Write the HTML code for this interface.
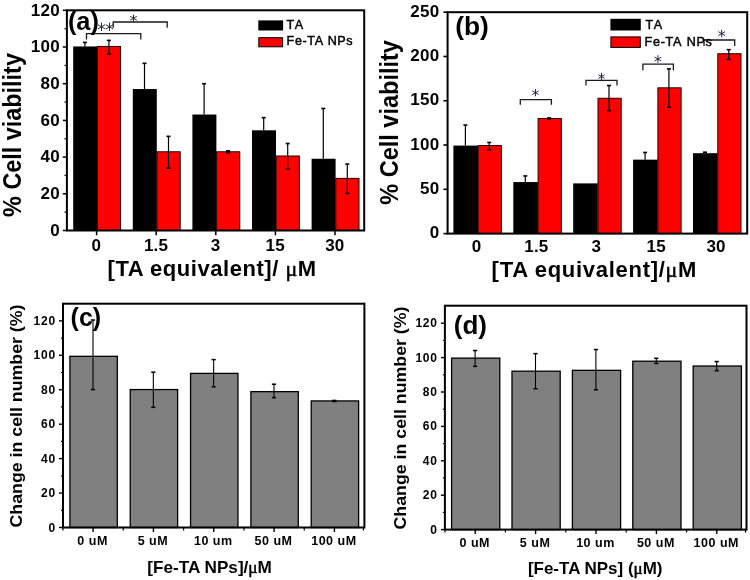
<!DOCTYPE html>
<html><head><meta charset="utf-8"><style>
html,body{margin:0;padding:0;background:#fff;width:750px;height:580px;overflow:hidden}
svg{display:block;will-change:transform}
</style></head><body>
<svg width="750" height="580" viewBox="0 0 750 580">
<rect width="750" height="580" fill="#fff"/>
<line x1="62.80" y1="230.50" x2="66.90" y2="230.50" stroke="#000" stroke-width="1.5"/>
<text x="59.90" y="235.70" font-family="&quot;Liberation Sans&quot;, sans-serif" font-weight="bold" font-size="17" text-anchor="end" fill="#000" letter-spacing="0.3">0</text>
<line x1="62.80" y1="193.80" x2="66.90" y2="193.80" stroke="#000" stroke-width="1.5"/>
<text x="59.90" y="199.00" font-family="&quot;Liberation Sans&quot;, sans-serif" font-weight="bold" font-size="17" text-anchor="end" fill="#000" letter-spacing="0.3">20</text>
<line x1="62.80" y1="157.10" x2="66.90" y2="157.10" stroke="#000" stroke-width="1.5"/>
<text x="59.90" y="162.30" font-family="&quot;Liberation Sans&quot;, sans-serif" font-weight="bold" font-size="17" text-anchor="end" fill="#000" letter-spacing="0.3">40</text>
<line x1="62.80" y1="120.40" x2="66.90" y2="120.40" stroke="#000" stroke-width="1.5"/>
<text x="59.90" y="125.60" font-family="&quot;Liberation Sans&quot;, sans-serif" font-weight="bold" font-size="17" text-anchor="end" fill="#000" letter-spacing="0.3">60</text>
<line x1="62.80" y1="83.70" x2="66.90" y2="83.70" stroke="#000" stroke-width="1.5"/>
<text x="59.90" y="88.90" font-family="&quot;Liberation Sans&quot;, sans-serif" font-weight="bold" font-size="17" text-anchor="end" fill="#000" letter-spacing="0.3">80</text>
<line x1="62.80" y1="47.00" x2="66.90" y2="47.00" stroke="#000" stroke-width="1.5"/>
<text x="59.90" y="52.20" font-family="&quot;Liberation Sans&quot;, sans-serif" font-weight="bold" font-size="17" text-anchor="end" fill="#000" letter-spacing="0.3">100</text>
<line x1="62.80" y1="10.30" x2="66.90" y2="10.30" stroke="#000" stroke-width="1.5"/>
<text x="59.90" y="15.50" font-family="&quot;Liberation Sans&quot;, sans-serif" font-weight="bold" font-size="17" text-anchor="end" fill="#000" letter-spacing="0.3">120</text>
<line x1="64.50" y1="212.15" x2="66.90" y2="212.15" stroke="#000" stroke-width="1.2"/>
<line x1="64.50" y1="175.45" x2="66.90" y2="175.45" stroke="#000" stroke-width="1.2"/>
<line x1="64.50" y1="138.75" x2="66.90" y2="138.75" stroke="#000" stroke-width="1.2"/>
<line x1="64.50" y1="102.05" x2="66.90" y2="102.05" stroke="#000" stroke-width="1.2"/>
<line x1="64.50" y1="65.35" x2="66.90" y2="65.35" stroke="#000" stroke-width="1.2"/>
<line x1="64.50" y1="28.65" x2="66.90" y2="28.65" stroke="#000" stroke-width="1.2"/>
<rect x="73.20" y="46.45" width="24.00" height="184.05" fill="#000"/>
<rect x="97.40" y="46.45" width="23.20" height="184.05" fill="#ff0000" stroke="#200000" stroke-width="1.0"/>
<rect x="132.80" y="89.02" width="24.00" height="141.48" fill="#000"/>
<rect x="157.00" y="151.78" width="23.20" height="78.72" fill="#ff0000" stroke="#200000" stroke-width="1.0"/>
<rect x="192.40" y="114.53" width="24.00" height="115.97" fill="#000"/>
<rect x="216.60" y="151.78" width="23.20" height="78.72" fill="#ff0000" stroke="#200000" stroke-width="1.0"/>
<rect x="252.00" y="130.31" width="24.00" height="100.19" fill="#000"/>
<rect x="276.20" y="156.00" width="23.20" height="74.50" fill="#ff0000" stroke="#200000" stroke-width="1.0"/>
<rect x="311.60" y="158.75" width="24.00" height="71.75" fill="#000"/>
<rect x="335.80" y="178.39" width="23.20" height="52.11" fill="#ff0000" stroke="#200000" stroke-width="1.0"/>
<line x1="84.90" y1="42.41" x2="84.90" y2="46.45" stroke="#000" stroke-width="1.2"/>
<line x1="82.90" y1="42.41" x2="86.90" y2="42.41" stroke="#000" stroke-width="1.6"/>
<line x1="108.90" y1="40.39" x2="108.90" y2="53.97" stroke="#000" stroke-width="1.2"/>
<line x1="106.90" y1="40.39" x2="110.90" y2="40.39" stroke="#000" stroke-width="1.6"/>
<line x1="106.90" y1="53.97" x2="110.90" y2="53.97" stroke="#000" stroke-width="1.6"/>
<line x1="144.50" y1="63.33" x2="144.50" y2="89.02" stroke="#000" stroke-width="1.2"/>
<line x1="142.50" y1="63.33" x2="146.50" y2="63.33" stroke="#000" stroke-width="1.6"/>
<line x1="168.50" y1="136.36" x2="168.50" y2="168.11" stroke="#000" stroke-width="1.2"/>
<line x1="166.50" y1="136.36" x2="170.50" y2="136.36" stroke="#000" stroke-width="1.6"/>
<line x1="166.50" y1="168.11" x2="170.50" y2="168.11" stroke="#000" stroke-width="1.6"/>
<line x1="204.10" y1="83.70" x2="204.10" y2="114.53" stroke="#000" stroke-width="1.2"/>
<line x1="202.10" y1="83.70" x2="206.10" y2="83.70" stroke="#000" stroke-width="1.6"/>
<line x1="228.10" y1="150.86" x2="228.10" y2="152.70" stroke="#000" stroke-width="1.2"/>
<line x1="226.10" y1="150.86" x2="230.10" y2="150.86" stroke="#000" stroke-width="1.6"/>
<line x1="226.10" y1="152.70" x2="230.10" y2="152.70" stroke="#000" stroke-width="1.6"/>
<line x1="263.70" y1="117.65" x2="263.70" y2="130.31" stroke="#000" stroke-width="1.2"/>
<line x1="261.70" y1="117.65" x2="265.70" y2="117.65" stroke="#000" stroke-width="1.6"/>
<line x1="287.70" y1="143.52" x2="287.70" y2="168.84" stroke="#000" stroke-width="1.2"/>
<line x1="285.70" y1="143.52" x2="289.70" y2="143.52" stroke="#000" stroke-width="1.6"/>
<line x1="285.70" y1="168.84" x2="289.70" y2="168.84" stroke="#000" stroke-width="1.6"/>
<line x1="323.30" y1="108.47" x2="323.30" y2="158.75" stroke="#000" stroke-width="1.2"/>
<line x1="321.30" y1="108.47" x2="325.30" y2="108.47" stroke="#000" stroke-width="1.6"/>
<line x1="347.30" y1="164.07" x2="347.30" y2="193.43" stroke="#000" stroke-width="1.2"/>
<line x1="345.30" y1="164.07" x2="349.30" y2="164.07" stroke="#000" stroke-width="1.6"/>
<line x1="345.30" y1="193.43" x2="349.30" y2="193.43" stroke="#000" stroke-width="1.6"/>
<line x1="96.60" y1="230.50" x2="96.60" y2="235.30" stroke="#000" stroke-width="1.5"/>
<text x="96.40" y="251.30" font-family="&quot;Liberation Sans&quot;, sans-serif" font-weight="bold" font-size="17" text-anchor="middle" fill="#000" letter-spacing="0.2">0</text>
<line x1="156.20" y1="230.50" x2="156.20" y2="235.30" stroke="#000" stroke-width="1.5"/>
<text x="156.00" y="251.30" font-family="&quot;Liberation Sans&quot;, sans-serif" font-weight="bold" font-size="17" text-anchor="middle" fill="#000" letter-spacing="0.2">1.5</text>
<line x1="215.80" y1="230.50" x2="215.80" y2="235.30" stroke="#000" stroke-width="1.5"/>
<text x="215.60" y="251.30" font-family="&quot;Liberation Sans&quot;, sans-serif" font-weight="bold" font-size="17" text-anchor="middle" fill="#000" letter-spacing="0.2">3</text>
<line x1="275.40" y1="230.50" x2="275.40" y2="235.30" stroke="#000" stroke-width="1.5"/>
<text x="275.20" y="251.30" font-family="&quot;Liberation Sans&quot;, sans-serif" font-weight="bold" font-size="17" text-anchor="middle" fill="#000" letter-spacing="0.2">15</text>
<line x1="335.00" y1="230.50" x2="335.00" y2="235.30" stroke="#000" stroke-width="1.5"/>
<text x="334.80" y="251.30" font-family="&quot;Liberation Sans&quot;, sans-serif" font-weight="bold" font-size="17" text-anchor="middle" fill="#000" letter-spacing="0.2">30</text>
<rect x="66.90" y="10.30" width="297.30" height="220.20" fill="none" stroke="#000" stroke-width="2"/>
<path d="M86.50,39.50 L86.50,33.70 L140.80,33.70 L140.80,39.50" fill="none" stroke="#1a1a1a" stroke-width="1.3"/>
<path d="M113.20,27.80 L113.20,22.00 L167.20,22.00 L167.20,27.80" fill="none" stroke="#1a1a1a" stroke-width="1.3"/>
<path d="M101.50,22.60L101.50,31.00M105.14,24.70L97.86,28.90M105.14,28.90L97.86,24.70" stroke="#1e2238" stroke-width="0.95" fill="none"/>
<path d="M109.50,22.60L109.50,31.00M113.14,24.70L105.86,28.90M113.14,28.90L105.86,24.70" stroke="#1e2238" stroke-width="0.95" fill="none"/>
<path d="M133.50,14.50L133.50,22.10M136.79,16.40L130.21,20.20M136.79,20.20L130.21,16.40" stroke="#1e2238" stroke-width="0.95" fill="none"/>
<rect x="258.30" y="20.40" width="24.80" height="10.10" fill="#000"/>
<rect x="258.80" y="37.70" width="23.80" height="9.10" fill="#ff0000" stroke="#000" stroke-width="1"/>
<text x="286.60" y="28.90" font-family="&quot;Liberation Sans&quot;, sans-serif" font-weight="normal" font-size="12.6" text-anchor="start" fill="#000" letter-spacing="1.5" stroke="#000" stroke-width="0.45">TA</text>
<text x="286.60" y="45.20" font-family="&quot;Liberation Sans&quot;, sans-serif" font-weight="normal" font-size="12.6" text-anchor="start" fill="#000" letter-spacing="0.6" word-spacing="0.6" stroke="#000" stroke-width="0.45">Fe-TA NPs</text>
<text x="67.90" y="30.40" font-family="&quot;Liberation Sans&quot;, sans-serif" font-weight="bold" font-size="25" text-anchor="start" fill="#000" textLength="31.00" lengthAdjust="spacingAndGlyphs" >(a)</text>
<g transform="translate(20.7,135) rotate(-90)">
<text x="0.00" y="0.00" font-family="&quot;Liberation Sans&quot;, sans-serif" font-weight="bold" font-size="25.5" text-anchor="middle" fill="#000" textLength="163.80" lengthAdjust="spacingAndGlyphs" >% Cell viability</text>
</g>
<text x="107.60" y="275.70" font-family="&quot;Liberation Sans&quot;, sans-serif" font-weight="bold" font-size="22" text-anchor="start" fill="#000" textLength="208.50" lengthAdjust="spacing" >[TA equivalent]/ <tspan font-family="Liberation Serif" font-weight="normal" stroke="#000" stroke-width="0.5">&#956;</tspan>M</text>
<line x1="443.40" y1="233.60" x2="447.60" y2="233.60" stroke="#000" stroke-width="1.6"/>
<text x="439.60" y="238.30" font-family="&quot;Liberation Sans&quot;, sans-serif" font-weight="bold" font-size="17" text-anchor="end" fill="#000" letter-spacing="0.3">0</text>
<line x1="443.40" y1="189.32" x2="447.60" y2="189.32" stroke="#000" stroke-width="1.6"/>
<text x="439.60" y="194.02" font-family="&quot;Liberation Sans&quot;, sans-serif" font-weight="bold" font-size="17" text-anchor="end" fill="#000" letter-spacing="0.3">50</text>
<line x1="443.40" y1="145.04" x2="447.60" y2="145.04" stroke="#000" stroke-width="1.6"/>
<text x="439.60" y="149.74" font-family="&quot;Liberation Sans&quot;, sans-serif" font-weight="bold" font-size="17" text-anchor="end" fill="#000" letter-spacing="0.3">100</text>
<line x1="443.40" y1="100.76" x2="447.60" y2="100.76" stroke="#000" stroke-width="1.6"/>
<text x="439.60" y="105.46" font-family="&quot;Liberation Sans&quot;, sans-serif" font-weight="bold" font-size="17" text-anchor="end" fill="#000" letter-spacing="0.3">150</text>
<line x1="443.40" y1="56.48" x2="447.60" y2="56.48" stroke="#000" stroke-width="1.6"/>
<text x="439.60" y="61.18" font-family="&quot;Liberation Sans&quot;, sans-serif" font-weight="bold" font-size="17" text-anchor="end" fill="#000" letter-spacing="0.3">200</text>
<line x1="443.40" y1="12.20" x2="447.60" y2="12.20" stroke="#000" stroke-width="1.6"/>
<text x="439.60" y="16.90" font-family="&quot;Liberation Sans&quot;, sans-serif" font-weight="bold" font-size="17" text-anchor="end" fill="#000" letter-spacing="0.3">250</text>
<rect x="453.40" y="145.57" width="24.60" height="88.03" fill="#000"/>
<rect x="478.20" y="145.57" width="23.20" height="88.03" fill="#ff0000" stroke="#200000" stroke-width="1.0"/>
<rect x="513.30" y="182.06" width="24.60" height="51.54" fill="#000"/>
<rect x="538.10" y="118.47" width="23.20" height="115.13" fill="#ff0000" stroke="#200000" stroke-width="1.0"/>
<rect x="573.20" y="183.39" width="24.60" height="50.21" fill="#000"/>
<rect x="598.00" y="98.28" width="23.20" height="135.32" fill="#ff0000" stroke="#200000" stroke-width="1.0"/>
<rect x="633.10" y="159.65" width="24.60" height="73.95" fill="#000"/>
<rect x="657.90" y="87.83" width="23.20" height="145.77" fill="#ff0000" stroke="#200000" stroke-width="1.0"/>
<rect x="693.00" y="153.19" width="24.60" height="80.41" fill="#000"/>
<rect x="717.80" y="53.73" width="23.20" height="179.87" fill="#ff0000" stroke="#200000" stroke-width="1.0"/>
<line x1="465.40" y1="125.03" x2="465.40" y2="145.57" stroke="#000" stroke-width="1.2"/>
<line x1="463.40" y1="125.03" x2="467.40" y2="125.03" stroke="#000" stroke-width="1.6"/>
<line x1="489.20" y1="142.47" x2="489.20" y2="149.65" stroke="#000" stroke-width="1.2"/>
<line x1="487.20" y1="142.47" x2="491.20" y2="142.47" stroke="#000" stroke-width="1.6"/>
<line x1="487.20" y1="149.65" x2="491.20" y2="149.65" stroke="#000" stroke-width="1.6"/>
<line x1="525.30" y1="175.95" x2="525.30" y2="182.06" stroke="#000" stroke-width="1.2"/>
<line x1="523.30" y1="175.95" x2="527.30" y2="175.95" stroke="#000" stroke-width="1.6"/>
<line x1="549.10" y1="117.94" x2="549.10" y2="119.00" stroke="#000" stroke-width="1.2"/>
<line x1="547.10" y1="117.94" x2="551.10" y2="117.94" stroke="#000" stroke-width="1.6"/>
<line x1="547.10" y1="119.00" x2="551.10" y2="119.00" stroke="#000" stroke-width="1.6"/>
<line x1="609.00" y1="85.53" x2="609.00" y2="110.59" stroke="#000" stroke-width="1.2"/>
<line x1="607.00" y1="85.53" x2="611.00" y2="85.53" stroke="#000" stroke-width="1.6"/>
<line x1="607.00" y1="110.59" x2="611.00" y2="110.59" stroke="#000" stroke-width="1.6"/>
<line x1="645.10" y1="152.48" x2="645.10" y2="159.65" stroke="#000" stroke-width="1.2"/>
<line x1="643.10" y1="152.48" x2="647.10" y2="152.48" stroke="#000" stroke-width="1.6"/>
<line x1="668.90" y1="68.88" x2="668.90" y2="107.22" stroke="#000" stroke-width="1.2"/>
<line x1="666.90" y1="68.88" x2="670.90" y2="68.88" stroke="#000" stroke-width="1.6"/>
<line x1="666.90" y1="107.22" x2="670.90" y2="107.22" stroke="#000" stroke-width="1.6"/>
<line x1="705.00" y1="152.21" x2="705.00" y2="153.19" stroke="#000" stroke-width="1.2"/>
<line x1="703.00" y1="152.21" x2="707.00" y2="152.21" stroke="#000" stroke-width="1.6"/>
<line x1="728.80" y1="49.66" x2="728.80" y2="59.40" stroke="#000" stroke-width="1.2"/>
<line x1="726.80" y1="49.66" x2="730.80" y2="49.66" stroke="#000" stroke-width="1.6"/>
<line x1="726.80" y1="59.40" x2="730.80" y2="59.40" stroke="#000" stroke-width="1.6"/>
<text x="476.50" y="252.40" font-family="&quot;Liberation Sans&quot;, sans-serif" font-weight="bold" font-size="17" text-anchor="middle" fill="#000" letter-spacing="0.2">0</text>
<text x="536.40" y="252.40" font-family="&quot;Liberation Sans&quot;, sans-serif" font-weight="bold" font-size="17" text-anchor="middle" fill="#000" letter-spacing="0.2">1.5</text>
<text x="596.30" y="252.40" font-family="&quot;Liberation Sans&quot;, sans-serif" font-weight="bold" font-size="17" text-anchor="middle" fill="#000" letter-spacing="0.2">3</text>
<text x="656.20" y="252.40" font-family="&quot;Liberation Sans&quot;, sans-serif" font-weight="bold" font-size="17" text-anchor="middle" fill="#000" letter-spacing="0.2">15</text>
<text x="716.10" y="252.40" font-family="&quot;Liberation Sans&quot;, sans-serif" font-weight="bold" font-size="17" text-anchor="middle" fill="#000" letter-spacing="0.2">30</text>
<rect x="447.60" y="12.20" width="299.60" height="221.40" fill="none" stroke="#000" stroke-width="2"/>
<path d="M520.30,104.80 L520.30,99.70 L551.40,99.70 L551.40,104.80" fill="none" stroke="#1a1a1a" stroke-width="1.3"/>
<path d="M586.00,85.40 L586.00,80.30 L617.00,80.30 L617.00,85.40" fill="none" stroke="#1a1a1a" stroke-width="1.3"/>
<path d="M642.90,70.20 L642.90,64.20 L673.40,64.20 L673.40,70.20" fill="none" stroke="#1a1a1a" stroke-width="1.3"/>
<path d="M704.00,46.00 L704.00,40.00 L734.70,40.00 L734.70,46.00" fill="none" stroke="#1a1a1a" stroke-width="1.3"/>
<path d="M535.50,89.10L535.50,96.30M538.62,90.90L532.38,94.50M538.62,94.50L532.38,90.90" stroke="#1e2238" stroke-width="0.95" fill="none"/>
<path d="M601.50,72.90L601.50,80.10M604.62,74.70L598.38,78.30M604.62,78.30L598.38,74.70" stroke="#1e2238" stroke-width="0.95" fill="none"/>
<path d="M657.90,55.20L657.90,62.80M661.19,57.10L654.61,60.90M661.19,60.90L654.61,57.10" stroke="#1e2238" stroke-width="0.95" fill="none"/>
<path d="M721.70,29.80L721.70,37.40M724.99,31.70L718.41,35.50M724.99,35.50L718.41,31.70" stroke="#1e2238" stroke-width="0.95" fill="none"/>
<rect x="610.40" y="18.80" width="30.40" height="11.70" fill="#000"/>
<rect x="610.90" y="36.90" width="29.40" height="10.50" fill="#ff0000" stroke="#000" stroke-width="1"/>
<text x="645.40" y="28.90" font-family="&quot;Liberation Sans&quot;, sans-serif" font-weight="normal" font-size="12.6" text-anchor="start" fill="#000" letter-spacing="1.5" stroke="#000" stroke-width="0.45">TA</text>
<text x="644.60" y="46.00" font-family="&quot;Liberation Sans&quot;, sans-serif" font-weight="normal" font-size="12.6" text-anchor="start" fill="#000" letter-spacing="0.7" word-spacing="1" stroke="#000" stroke-width="0.45">Fe-TA NPs</text>
<text x="455.20" y="35.00" font-family="&quot;Liberation Sans&quot;, sans-serif" font-weight="bold" font-size="25" text-anchor="start" fill="#000" textLength="33.60" lengthAdjust="spacingAndGlyphs" >(b)</text>
<g transform="translate(398.2,122.4) rotate(-90)">
<text x="0.00" y="0.00" font-family="&quot;Liberation Sans&quot;, sans-serif" font-weight="bold" font-size="25.5" text-anchor="middle" fill="#000" textLength="164.70" lengthAdjust="spacingAndGlyphs" >% Cell viability</text>
</g>
<text x="491.60" y="276.70" font-family="&quot;Liberation Sans&quot;, sans-serif" font-weight="bold" font-size="22" text-anchor="start" fill="#000" textLength="204.80" lengthAdjust="spacing" >[TA equivalent]/<tspan font-family="Liberation Serif" font-weight="normal" stroke="#000" stroke-width="0.5">&#956;</tspan>M</text>
<line x1="59.00" y1="527.50" x2="63.00" y2="527.50" stroke="#000" stroke-width="1.4"/>
<text x="56.00" y="531.50" font-family="&quot;Liberation Sans&quot;, sans-serif" font-weight="bold" font-size="12" text-anchor="end" fill="#000" letter-spacing="0.8">0</text>
<line x1="59.00" y1="493.06" x2="63.00" y2="493.06" stroke="#000" stroke-width="1.4"/>
<text x="56.00" y="497.06" font-family="&quot;Liberation Sans&quot;, sans-serif" font-weight="bold" font-size="12" text-anchor="end" fill="#000" letter-spacing="0.8">20</text>
<line x1="59.00" y1="458.62" x2="63.00" y2="458.62" stroke="#000" stroke-width="1.4"/>
<text x="56.00" y="462.62" font-family="&quot;Liberation Sans&quot;, sans-serif" font-weight="bold" font-size="12" text-anchor="end" fill="#000" letter-spacing="0.8">40</text>
<line x1="59.00" y1="424.18" x2="63.00" y2="424.18" stroke="#000" stroke-width="1.4"/>
<text x="56.00" y="428.18" font-family="&quot;Liberation Sans&quot;, sans-serif" font-weight="bold" font-size="12" text-anchor="end" fill="#000" letter-spacing="0.8">60</text>
<line x1="59.00" y1="389.74" x2="63.00" y2="389.74" stroke="#000" stroke-width="1.4"/>
<text x="56.00" y="393.74" font-family="&quot;Liberation Sans&quot;, sans-serif" font-weight="bold" font-size="12" text-anchor="end" fill="#000" letter-spacing="0.8">80</text>
<line x1="59.00" y1="355.30" x2="63.00" y2="355.30" stroke="#000" stroke-width="1.4"/>
<text x="56.00" y="359.30" font-family="&quot;Liberation Sans&quot;, sans-serif" font-weight="bold" font-size="12" text-anchor="end" fill="#000" letter-spacing="0.8">100</text>
<line x1="59.00" y1="320.86" x2="63.00" y2="320.86" stroke="#000" stroke-width="1.4"/>
<text x="56.00" y="324.86" font-family="&quot;Liberation Sans&quot;, sans-serif" font-weight="bold" font-size="12" text-anchor="end" fill="#000" letter-spacing="0.8">120</text>
<line x1="61.00" y1="510.28" x2="63.00" y2="510.28" stroke="#000" stroke-width="1.2"/>
<line x1="61.00" y1="475.84" x2="63.00" y2="475.84" stroke="#000" stroke-width="1.2"/>
<line x1="61.00" y1="441.40" x2="63.00" y2="441.40" stroke="#000" stroke-width="1.2"/>
<line x1="61.00" y1="406.96" x2="63.00" y2="406.96" stroke="#000" stroke-width="1.2"/>
<line x1="61.00" y1="372.52" x2="63.00" y2="372.52" stroke="#000" stroke-width="1.2"/>
<line x1="61.00" y1="338.08" x2="63.00" y2="338.08" stroke="#000" stroke-width="1.2"/>
<rect x="69.90" y="356.33" width="47.40" height="171.17" fill="#808080" stroke="#000" stroke-width="1.3"/>
<rect x="130.23" y="389.57" width="47.40" height="137.93" fill="#808080" stroke="#000" stroke-width="1.3"/>
<rect x="190.56" y="373.38" width="47.40" height="154.12" fill="#808080" stroke="#000" stroke-width="1.3"/>
<rect x="250.89" y="391.63" width="47.40" height="135.87" fill="#808080" stroke="#000" stroke-width="1.3"/>
<rect x="311.22" y="400.93" width="47.40" height="126.57" fill="#808080" stroke="#000" stroke-width="1.3"/>
<line x1="93.00" y1="320.00" x2="93.00" y2="389.57" stroke="#000" stroke-width="1.1"/>
<line x1="90.90" y1="320.00" x2="95.10" y2="320.00" stroke="#000" stroke-width="1.5"/>
<line x1="90.90" y1="389.57" x2="95.10" y2="389.57" stroke="#000" stroke-width="1.5"/>
<line x1="153.33" y1="372.18" x2="153.33" y2="407.30" stroke="#000" stroke-width="1.1"/>
<line x1="151.23" y1="372.18" x2="155.43" y2="372.18" stroke="#000" stroke-width="1.5"/>
<line x1="151.23" y1="407.30" x2="155.43" y2="407.30" stroke="#000" stroke-width="1.5"/>
<line x1="213.66" y1="359.61" x2="213.66" y2="386.81" stroke="#000" stroke-width="1.1"/>
<line x1="211.56" y1="359.61" x2="215.76" y2="359.61" stroke="#000" stroke-width="1.5"/>
<line x1="211.56" y1="386.81" x2="215.76" y2="386.81" stroke="#000" stroke-width="1.5"/>
<line x1="273.99" y1="384.23" x2="273.99" y2="397.66" stroke="#000" stroke-width="1.1"/>
<line x1="271.89" y1="384.23" x2="276.09" y2="384.23" stroke="#000" stroke-width="1.5"/>
<line x1="271.89" y1="397.66" x2="276.09" y2="397.66" stroke="#000" stroke-width="1.5"/>
<line x1="334.32" y1="400.42" x2="334.32" y2="401.45" stroke="#000" stroke-width="1.1"/>
<line x1="332.22" y1="400.42" x2="336.42" y2="400.42" stroke="#000" stroke-width="1.5"/>
<line x1="332.22" y1="401.45" x2="336.42" y2="401.45" stroke="#000" stroke-width="1.5"/>
<line x1="93.10" y1="527.50" x2="93.10" y2="532.00" stroke="#000" stroke-width="1.4"/>
<line x1="62.93" y1="527.50" x2="62.93" y2="530.50" stroke="#000" stroke-width="1.2"/>
<text x="92.60" y="544.90" font-family="&quot;Liberation Sans&quot;, sans-serif" font-weight="bold" font-size="12.5" text-anchor="middle" fill="#000" letter-spacing="0.5">0 uM</text>
<line x1="153.43" y1="527.50" x2="153.43" y2="532.00" stroke="#000" stroke-width="1.4"/>
<line x1="123.27" y1="527.50" x2="123.27" y2="530.50" stroke="#000" stroke-width="1.2"/>
<text x="152.93" y="544.90" font-family="&quot;Liberation Sans&quot;, sans-serif" font-weight="bold" font-size="12.5" text-anchor="middle" fill="#000" letter-spacing="0.5">5 uM</text>
<line x1="213.76" y1="527.50" x2="213.76" y2="532.00" stroke="#000" stroke-width="1.4"/>
<line x1="183.59" y1="527.50" x2="183.59" y2="530.50" stroke="#000" stroke-width="1.2"/>
<text x="213.26" y="544.90" font-family="&quot;Liberation Sans&quot;, sans-serif" font-weight="bold" font-size="12.5" text-anchor="middle" fill="#000" letter-spacing="0.5">10 um</text>
<line x1="274.09" y1="527.50" x2="274.09" y2="532.00" stroke="#000" stroke-width="1.4"/>
<line x1="243.93" y1="527.50" x2="243.93" y2="530.50" stroke="#000" stroke-width="1.2"/>
<text x="273.59" y="544.90" font-family="&quot;Liberation Sans&quot;, sans-serif" font-weight="bold" font-size="12.5" text-anchor="middle" fill="#000" letter-spacing="0.5">50 uM</text>
<line x1="334.42" y1="527.50" x2="334.42" y2="532.00" stroke="#000" stroke-width="1.4"/>
<line x1="304.25" y1="527.50" x2="304.25" y2="530.50" stroke="#000" stroke-width="1.2"/>
<text x="333.92" y="544.90" font-family="&quot;Liberation Sans&quot;, sans-serif" font-weight="bold" font-size="12.5" text-anchor="middle" fill="#000" letter-spacing="0.5">100 uM</text>
<line x1="363.40" y1="527.50" x2="363.40" y2="530.50" stroke="#000" stroke-width="1.2"/>
<rect x="63.00" y="303.70" width="301.40" height="223.80" fill="none" stroke="#000" stroke-width="2"/>
<text x="70.60" y="326.00" font-family="&quot;Liberation Sans&quot;, sans-serif" font-weight="bold" font-size="25" text-anchor="start" fill="#000" textLength="30.60" lengthAdjust="spacingAndGlyphs" >(c)</text>
<g transform="translate(21.7,416.0) rotate(-90)">
<text x="0.00" y="0.00" font-family="&quot;Liberation Sans&quot;, sans-serif" font-weight="bold" font-size="17" text-anchor="middle" fill="#000" textLength="223.00" lengthAdjust="spacingAndGlyphs" >Change in cell number (%)</text>
</g>
<text x="147.30" y="572.90" font-family="&quot;Liberation Sans&quot;, sans-serif" font-weight="bold" font-size="16.6" text-anchor="start" fill="#000" textLength="124.60" lengthAdjust="spacingAndGlyphs" >[Fe-TA NPs]/<tspan font-family="Liberation Serif" font-weight="normal" stroke="#000" stroke-width="0.5">&#956;</tspan>M</text>
<line x1="440.90" y1="529.60" x2="444.90" y2="529.60" stroke="#000" stroke-width="1.4"/>
<text x="437.80" y="533.60" font-family="&quot;Liberation Sans&quot;, sans-serif" font-weight="bold" font-size="12" text-anchor="end" fill="#000" letter-spacing="0.8">0</text>
<line x1="440.90" y1="495.20" x2="444.90" y2="495.20" stroke="#000" stroke-width="1.4"/>
<text x="437.80" y="499.20" font-family="&quot;Liberation Sans&quot;, sans-serif" font-weight="bold" font-size="12" text-anchor="end" fill="#000" letter-spacing="0.8">20</text>
<line x1="440.90" y1="460.80" x2="444.90" y2="460.80" stroke="#000" stroke-width="1.4"/>
<text x="437.80" y="464.80" font-family="&quot;Liberation Sans&quot;, sans-serif" font-weight="bold" font-size="12" text-anchor="end" fill="#000" letter-spacing="0.8">40</text>
<line x1="440.90" y1="426.40" x2="444.90" y2="426.40" stroke="#000" stroke-width="1.4"/>
<text x="437.80" y="430.40" font-family="&quot;Liberation Sans&quot;, sans-serif" font-weight="bold" font-size="12" text-anchor="end" fill="#000" letter-spacing="0.8">60</text>
<line x1="440.90" y1="392.00" x2="444.90" y2="392.00" stroke="#000" stroke-width="1.4"/>
<text x="437.80" y="396.00" font-family="&quot;Liberation Sans&quot;, sans-serif" font-weight="bold" font-size="12" text-anchor="end" fill="#000" letter-spacing="0.8">80</text>
<line x1="440.90" y1="357.60" x2="444.90" y2="357.60" stroke="#000" stroke-width="1.4"/>
<text x="437.80" y="361.60" font-family="&quot;Liberation Sans&quot;, sans-serif" font-weight="bold" font-size="12" text-anchor="end" fill="#000" letter-spacing="0.8">100</text>
<line x1="440.90" y1="323.20" x2="444.90" y2="323.20" stroke="#000" stroke-width="1.4"/>
<text x="437.80" y="327.20" font-family="&quot;Liberation Sans&quot;, sans-serif" font-weight="bold" font-size="12" text-anchor="end" fill="#000" letter-spacing="0.8">120</text>
<line x1="442.90" y1="512.40" x2="444.90" y2="512.40" stroke="#000" stroke-width="1.2"/>
<line x1="442.90" y1="478.00" x2="444.90" y2="478.00" stroke="#000" stroke-width="1.2"/>
<line x1="442.90" y1="443.60" x2="444.90" y2="443.60" stroke="#000" stroke-width="1.2"/>
<line x1="442.90" y1="409.20" x2="444.90" y2="409.20" stroke="#000" stroke-width="1.2"/>
<line x1="442.90" y1="374.80" x2="444.90" y2="374.80" stroke="#000" stroke-width="1.2"/>
<line x1="442.90" y1="340.40" x2="444.90" y2="340.40" stroke="#000" stroke-width="1.2"/>
<rect x="451.60" y="358.12" width="48.20" height="171.48" fill="#808080" stroke="#000" stroke-width="1.3"/>
<rect x="512.00" y="371.19" width="48.20" height="158.41" fill="#808080" stroke="#000" stroke-width="1.3"/>
<rect x="572.40" y="370.33" width="48.20" height="159.27" fill="#808080" stroke="#000" stroke-width="1.3"/>
<rect x="632.80" y="361.21" width="48.20" height="168.39" fill="#808080" stroke="#000" stroke-width="1.3"/>
<rect x="693.20" y="366.03" width="48.20" height="163.57" fill="#808080" stroke="#000" stroke-width="1.3"/>
<line x1="475.10" y1="350.55" x2="475.10" y2="366.37" stroke="#000" stroke-width="1.1"/>
<line x1="473.00" y1="350.55" x2="477.20" y2="350.55" stroke="#000" stroke-width="1.5"/>
<line x1="473.00" y1="366.37" x2="477.20" y2="366.37" stroke="#000" stroke-width="1.5"/>
<line x1="535.50" y1="353.64" x2="535.50" y2="388.73" stroke="#000" stroke-width="1.1"/>
<line x1="533.40" y1="353.64" x2="537.60" y2="353.64" stroke="#000" stroke-width="1.5"/>
<line x1="533.40" y1="388.73" x2="537.60" y2="388.73" stroke="#000" stroke-width="1.5"/>
<line x1="595.90" y1="349.52" x2="595.90" y2="389.76" stroke="#000" stroke-width="1.1"/>
<line x1="593.80" y1="349.52" x2="598.00" y2="349.52" stroke="#000" stroke-width="1.5"/>
<line x1="593.80" y1="389.76" x2="598.00" y2="389.76" stroke="#000" stroke-width="1.5"/>
<line x1="656.30" y1="358.29" x2="656.30" y2="363.45" stroke="#000" stroke-width="1.1"/>
<line x1="654.20" y1="358.29" x2="658.40" y2="358.29" stroke="#000" stroke-width="1.5"/>
<line x1="654.20" y1="363.45" x2="658.40" y2="363.45" stroke="#000" stroke-width="1.5"/>
<line x1="716.70" y1="361.56" x2="716.70" y2="370.67" stroke="#000" stroke-width="1.1"/>
<line x1="714.60" y1="361.56" x2="718.80" y2="361.56" stroke="#000" stroke-width="1.5"/>
<line x1="714.60" y1="370.67" x2="718.80" y2="370.67" stroke="#000" stroke-width="1.5"/>
<line x1="475.20" y1="529.60" x2="475.20" y2="534.10" stroke="#000" stroke-width="1.4"/>
<line x1="445.00" y1="529.60" x2="445.00" y2="532.60" stroke="#000" stroke-width="1.2"/>
<text x="474.70" y="546.70" font-family="&quot;Liberation Sans&quot;, sans-serif" font-weight="bold" font-size="12.5" text-anchor="middle" fill="#000" letter-spacing="0.5">0 uM</text>
<line x1="535.60" y1="529.60" x2="535.60" y2="534.10" stroke="#000" stroke-width="1.4"/>
<line x1="505.40" y1="529.60" x2="505.40" y2="532.60" stroke="#000" stroke-width="1.2"/>
<text x="535.10" y="546.70" font-family="&quot;Liberation Sans&quot;, sans-serif" font-weight="bold" font-size="12.5" text-anchor="middle" fill="#000" letter-spacing="0.5">5 uM</text>
<line x1="596.00" y1="529.60" x2="596.00" y2="534.10" stroke="#000" stroke-width="1.4"/>
<line x1="565.80" y1="529.60" x2="565.80" y2="532.60" stroke="#000" stroke-width="1.2"/>
<text x="595.50" y="546.70" font-family="&quot;Liberation Sans&quot;, sans-serif" font-weight="bold" font-size="12.5" text-anchor="middle" fill="#000" letter-spacing="0.5">10 um</text>
<line x1="656.40" y1="529.60" x2="656.40" y2="534.10" stroke="#000" stroke-width="1.4"/>
<line x1="626.20" y1="529.60" x2="626.20" y2="532.60" stroke="#000" stroke-width="1.2"/>
<text x="655.90" y="546.70" font-family="&quot;Liberation Sans&quot;, sans-serif" font-weight="bold" font-size="12.5" text-anchor="middle" fill="#000" letter-spacing="0.5">50 uM</text>
<line x1="716.80" y1="529.60" x2="716.80" y2="534.10" stroke="#000" stroke-width="1.4"/>
<line x1="686.60" y1="529.60" x2="686.60" y2="532.60" stroke="#000" stroke-width="1.2"/>
<text x="716.30" y="546.70" font-family="&quot;Liberation Sans&quot;, sans-serif" font-weight="bold" font-size="12.5" text-anchor="middle" fill="#000" letter-spacing="0.5">100 uM</text>
<line x1="745.50" y1="529.60" x2="745.50" y2="532.60" stroke="#000" stroke-width="1.2"/>
<rect x="444.90" y="305.70" width="301.60" height="223.90" fill="none" stroke="#000" stroke-width="2"/>
<text x="453.80" y="334.00" font-family="&quot;Liberation Sans&quot;, sans-serif" font-weight="bold" font-size="25" text-anchor="start" fill="#000" textLength="33.20" lengthAdjust="spacingAndGlyphs" >(d)</text>
<g transform="translate(405.6,418.0) rotate(-90)">
<text x="0.00" y="0.00" font-family="&quot;Liberation Sans&quot;, sans-serif" font-weight="bold" font-size="17" text-anchor="middle" fill="#000" textLength="223.00" lengthAdjust="spacingAndGlyphs" >Change in cell number (%)</text>
</g>
<text x="527.90" y="574.30" font-family="&quot;Liberation Sans&quot;, sans-serif" font-weight="bold" font-size="16.6" text-anchor="start" fill="#000" textLength="134.60" lengthAdjust="spacingAndGlyphs" >[Fe-TA NPs] (<tspan font-family="Liberation Serif" font-weight="normal" stroke="#000" stroke-width="0.5">&#956;</tspan>M)</text>
</svg></body></html>
